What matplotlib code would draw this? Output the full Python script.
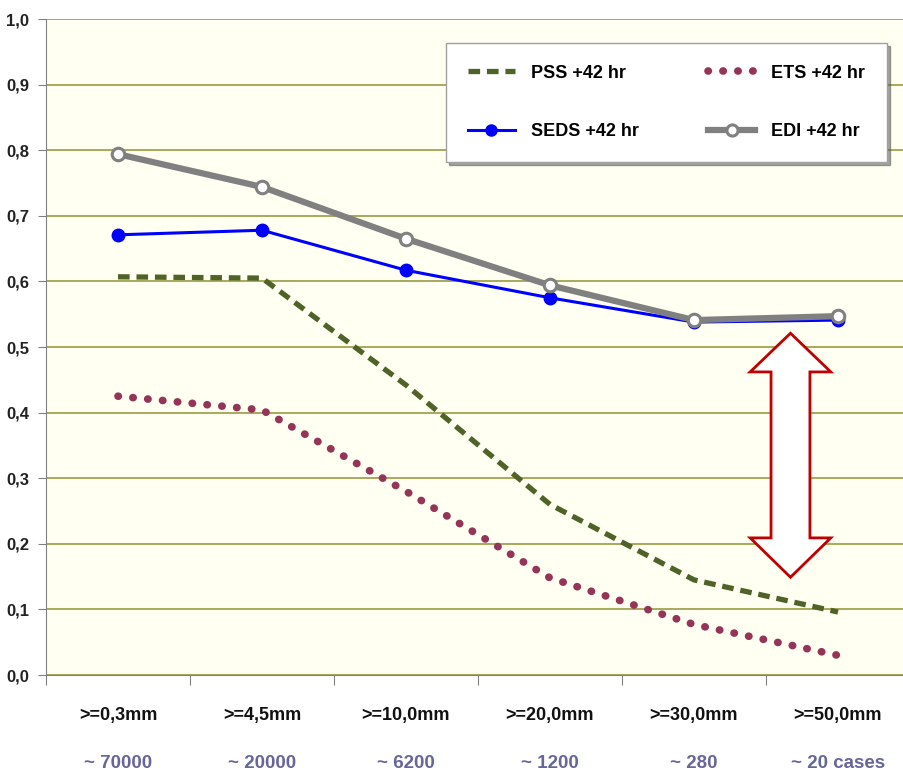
import matplotlib.pyplot as plt
from matplotlib.patches import Polygon
from matplotlib.lines import Line2D

plt.rcParams['font.family'] = ['Liberation Sans', 'DejaVu Sans']

thresholds = [">=0,3mm", ">=4,5mm", ">=10,0mm", ">=20,0mm", ">=30,0mm", ">=50,0mm"]
cases = ["~ 70000", "~ 20000", "~ 6200", "~ 1200", "~ 280", "~ 20 cases"]

pss = [0.607, 0.605, 0.442, 0.260, 0.145, 0.096]
ets = [0.425, 0.404, 0.280, 0.148, 0.077, 0.030]
seds = [0.671, 0.678, 0.617, 0.575, 0.538, 0.541]
edi = [0.794, 0.744, 0.665, 0.594, 0.541, 0.547]

yticks = [0.0, 0.1, 0.2, 0.3, 0.4, 0.5, 0.6, 0.7, 0.8, 0.9, 1.0]
ytick_labels = ["0,0", "0,1", "0,2", "0,3", "0,4", "0,5", "0,6", "0,7", "0,8", "0,9", "1,0"]

fig = plt.figure(figsize=(9.04, 7.73), dpi=100)
ax = fig.add_axes([46 / 904, 1 - 675 / 773, 864 / 904, 656 / 773])
ax.set_facecolor("#FFFFF2")

x = list(range(len(thresholds)))

pss_style = dict(color="#4F6228", lw=3.8, dashes=(2.2, 1.3), dash_capstyle="butt")
ets_style = dict(color="#953456", lw=5.5, dashes=(0.05, 1.9), dash_capstyle="round")
seds_style = dict(color="#0000FF", lw=2.2, marker="o", mfc="#0000FF", mec="#0000FF")
edi_style = dict(color="#808080", lw=4.5, marker="o", mfc="white", mec="#808080", mew=2.2)

ax.plot(x, pss, zorder=3, **pss_style)
ax.plot(x, ets, zorder=3, **ets_style)
ax.plot(x, seds, ms=9, zorder=4, **seds_style)
ax.plot(x, edi, ms=9, zorder=5, **edi_style)

# double-headed block arrow marking the gap between score families
cx, sw, hw = 4.67, 0.135, 0.28
top, top_base, bot_base, bot = 0.521, 0.462, 0.209, 0.149
arrow = Polygon([(cx, top), (cx + hw, top_base), (cx + sw, top_base), (cx + sw, bot_base),
                 (cx + hw, bot_base), (cx, bot), (cx - hw, bot_base), (cx - sw, bot_base),
                 (cx - sw, top_base), (cx - hw, top_base)],
                closed=True, facecolor="white", edgecolor="#C00000", lw=2, zorder=6)
ax.add_patch(arrow)

ax.set_xlim(-0.5, 5.5)
ax.set_ylim(0, 1.0)
ax.set_yticks(yticks)
ax.set_yticklabels(ytick_labels, fontsize=12, fontweight="bold", color="#222222")
ax.yaxis.grid(True, color="#A3A350", lw=1.3, zorder=0)
ax.tick_params(axis="y", length=6, color="#808080", pad=6)

ax.set_xticks([i + 0.5 for i in range(-1, 6)])
ax.set_xticklabels([])
ax.tick_params(axis="x", length=7, color="#808080")

for i in x:
    ax.text(i, -0.062, thresholds[i], ha="center", va="center", fontsize=13,
            fontweight="bold", color="#111111")
    ax.text(i, -0.135, cases[i], ha="center", va="center", fontsize=13.5,
            fontweight="bold", color="#66669A", clip_on=False)

for side in ["top", "right"]:
    ax.spines[side].set_visible(False)
ax.spines["left"].set_color("#808080")
ax.spines["bottom"].set_color("#808080")

handles = [
    Line2D([], [], **pss_style),
    Line2D([], [], ms=8, **seds_style),
    Line2D([], [], **ets_style),
    Line2D([], [], ms=8, **edi_style),
]
labels = ["PSS +42 hr", "SEDS +42 hr", "ETS +42 hr", "EDI +42 hr"]
leg = ax.legend(handles, labels, ncol=2, loc="lower left", mode="expand",
                bbox_to_anchor=((437 - 46) / 864, (675 - 171) / 656, 459 / 864, 123 / 656),
                prop={"size": 13, "weight": "bold"}, frameon=True, fancybox=False,
                shadow=True, handlelength=2.6, columnspacing=2.0, labelspacing=2.3,
                borderpad=1.2, handletextpad=0.9)
leg.get_frame().set_edgecolor("#A0A0A0")
leg.get_frame().set_facecolor("white")
leg.get_frame().set_alpha(1)

fig.savefig("out.png", dpi=100, facecolor="white")
